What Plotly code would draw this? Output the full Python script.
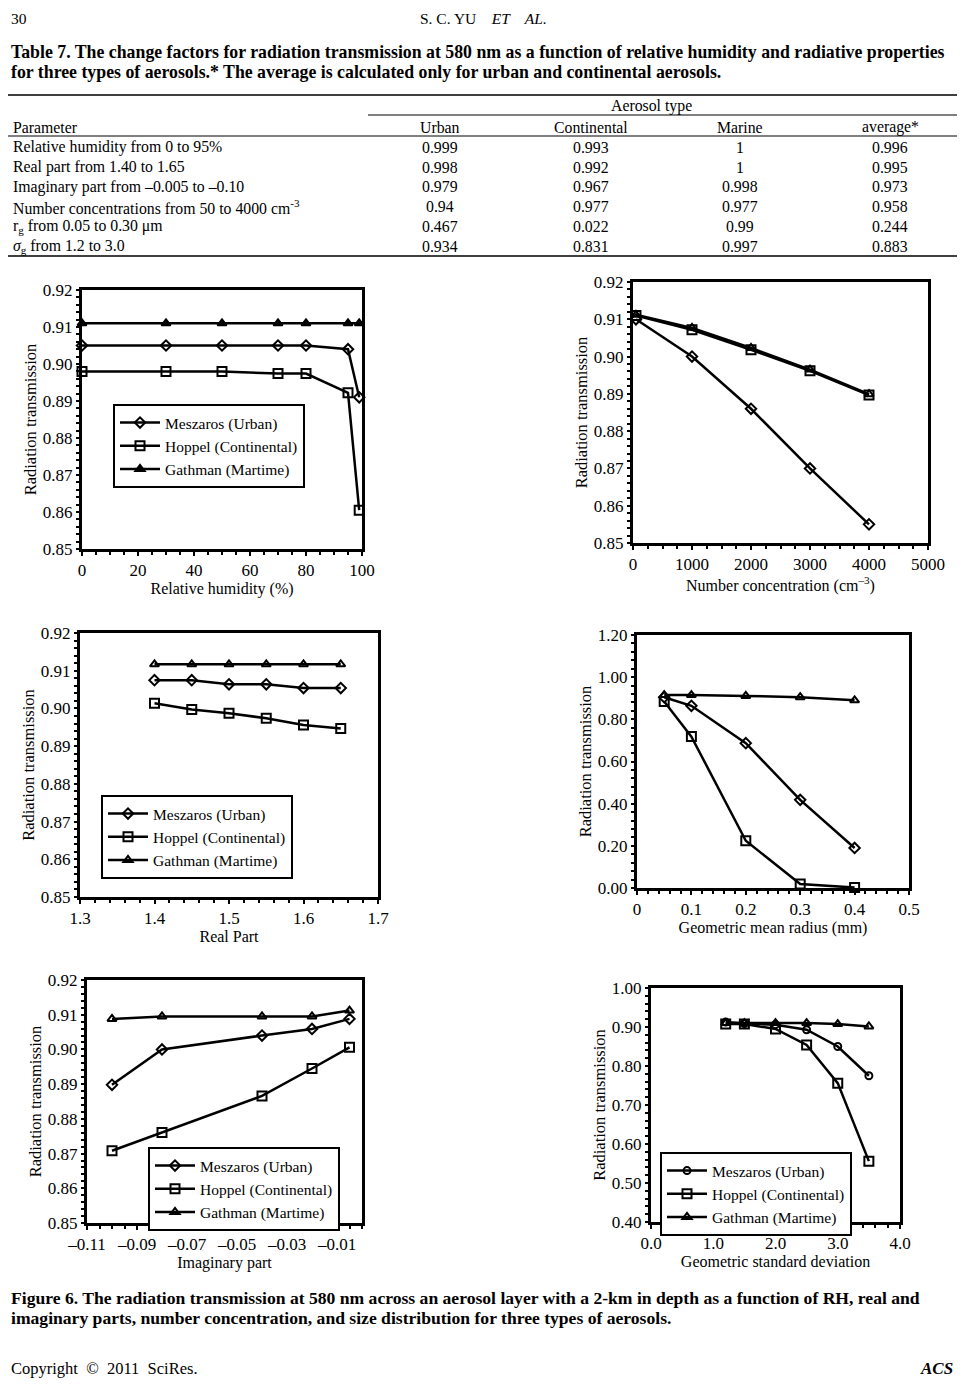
import plotly.graph_objects as go

W, H = 965, 1386          # page size of the reference
OFF = 8                    # the browser page adds an 8 px body margin
FW, FH = W - 2 * OFF, H - 2 * OFF  # figure size so the page fits the window
FONT = "Liberation Serif"

# ---------------- Table 7 data ----------------
table_params = [
    "Relative humidity from 0 to 95%",
    "Real part from 1.40 to 1.65",
    "Imaginary part from –0.005 to –0.10",
    "Number concentrations from 50 to 4000 cm<sup>-3</sup>",
    "r<sub>g</sub> from 0.05 to 0.30 μm",
    "<i>σ</i><sub>g</sub> from 1.2 to 3.0",
]
table_cols = ["Urban", "Continental", "Marine", "average*"]
table_urban = ["0.999", "0.998", "0.979", "0.94", "0.467", "0.934"]
table_continental = ["0.993", "0.992", "0.967", "0.977", "0.022", "0.831"]
table_marine = ["1", "1", "0.998", "0.977", "0.99", "0.997"]
table_average = ["0.996", "0.995", "0.973", "0.958", "0.244", "0.883"]

# ---------------- Figure 6 data ----------------
series_names = ["Meszaros (Urban)", "Hoppel (Continental)", "Gathman (Martime)"]

rh = [0, 30, 50, 70, 80, 95, 99]
rh_urban = [0.905, 0.905, 0.905, 0.905, 0.905, 0.904, 0.891]
rh_cont = [0.898, 0.898, 0.898, 0.8974, 0.8974, 0.8922, 0.8605]
rh_marine = [0.911, 0.911, 0.911, 0.911, 0.911, 0.911, 0.911]

nc = [50, 1000, 2000, 3000, 4000]
nc_urban = [0.910, 0.900, 0.886, 0.870, 0.855]
nc_cont = [0.911, 0.9072, 0.9018, 0.8962, 0.8897]
nc_marine = [0.9112, 0.9077, 0.9023, 0.8965, 0.8899]

real = [1.40, 1.45, 1.50, 1.55, 1.60, 1.65]
real_urban = [0.9075, 0.9075, 0.9064, 0.9064, 0.9054, 0.9054]
real_cont = [0.9014, 0.8997, 0.8987, 0.8974, 0.8956, 0.8947]
real_marine = [0.9117, 0.9117, 0.9117, 0.9117, 0.9117, 0.9117]

rg = [0.05, 0.1, 0.2, 0.3, 0.4]
rg_urban = [0.905, 0.864, 0.687, 0.418, 0.19]
rg_cont = [0.885, 0.718, 0.224, 0.019, 0.002]
rg_marine = [0.915, 0.915, 0.911, 0.905, 0.89]

imag = [-0.10, -0.08, -0.04, -0.02, -0.005]
imag_urban = [0.8898, 0.9000, 0.9040, 0.9059, 0.9088]
imag_cont = [0.8708, 0.8761, 0.8866, 0.8945, 0.9006]
imag_marine = [0.9088, 0.9095, 0.9095, 0.9095, 0.9112]

sg = [1.2, 1.5, 2.0, 2.5, 3.0, 3.5]
sg_urban = [0.9126, 0.909, 0.906, 0.893, 0.850, 0.775]
sg_cont = [0.9075, 0.9075, 0.895, 0.854, 0.756, 0.556]
sg_marine = [0.910, 0.910, 0.910, 0.910, 0.9075, 0.9015]

# tick labels
ticks_rh = [0, 20, 40, 60, 80, 100]
ticks_nc = [0, 1000, 2000, 3000, 4000, 5000]
ticks_real = [1.3, 1.4, 1.5, 1.6, 1.7]
ticks_rg = [0, 0.1, 0.2, 0.3, 0.4, 0.5]
ticks_rg_text = ["0", "0.1", "0.2", "0.3", "0.4", "0.5"]
ticks_imag = [-0.11, -0.09, -0.07, -0.05, -0.03, -0.01]
ticks_imag_text = ["–0.11", "–0.09", "–0.07", "–0.05", "–0.03", "–0.01"]
ticks_sg = [0, 1, 2, 3, 4]
ticks_t = [0.85, 0.86, 0.87, 0.88, 0.89, 0.90, 0.91, 0.92]
ticks_t4 = [0, 0.2, 0.4, 0.6, 0.8, 1.0, 1.2]
ticks_t6 = [0.4, 0.5, 0.6, 0.7, 0.8, 0.9, 1.0]


def px(x):
    return min(1.0, max(0.0, (x - OFF) / FW))


def py(y):
    return max(0.0, min(1.0, 1 - (y - OFF) / FH))


fig = go.Figure()

panels = [
    dict(x=rh, ys=[rh_urban, rh_cont, rh_marine],
         sym=["diamond-open", "square-open", "triangle-up"], legend="legend"),
    dict(x=nc, ys=[nc_urban, nc_cont, nc_marine],
         sym=["diamond-open", "square-open", "triangle-up-open"], legend=None),
    dict(x=real, ys=[real_urban, real_cont, real_marine],
         sym=["diamond-open", "square-open", "triangle-up-open"], legend="legend2"),
    dict(x=rg, ys=[rg_urban, rg_cont, rg_marine],
         sym=["diamond-open", "square-open", "triangle-up-open"], legend=None),
    dict(x=imag, ys=[imag_urban, imag_cont, imag_marine],
         sym=["diamond-open", "square-open", "triangle-up-open"], legend="legend3"),
    dict(x=sg, ys=[sg_urban, sg_cont, sg_marine],
         sym=["circle-open", "square-open", "triangle-up-open"], legend="legend4"),
]
msize = {"diamond-open": 8, "square-open": 9, "triangle-up": 8,
         "triangle-up-open": 8, "circle-open": 7}

for i, p in enumerate(panels):
    ax = "" if i == 0 else str(i + 1)
    for name, y, s in zip(series_names, p["ys"], p["sym"]):
        kw = {}
        if p["legend"]:
            kw["legend"] = p["legend"]
        fig.add_trace(go.Scatter(
            x=p["x"], y=y, name=name, mode="lines+markers",
            xaxis="x" + ax, yaxis="y" + ax,
            line=dict(color="black", width=2.5),
            marker=dict(symbol=s, size=msize[s], color="black",
                        line=dict(color="black", width=2)),
            cliponaxis=False,
            showlegend=bool(p["legend"]),
            **kw))

domains = [
    (82, 362, 290, 549),
    (633, 928, 282, 543),
    (80, 378, 633, 897),
    (637, 909, 635, 888),
    (87, 362, 980, 1223),
    (651, 900, 988, 1222),
]
xcfg = [
    dict(range=[0, 100], tickvals=ticks_rh, title="Relative humidity (%)", minor=5),
    dict(range=[0, 5000], tickvals=ticks_nc, title="Number concentration (cm<sup>–3</sup>)", minor=250),
    dict(range=[1.3, 1.7], tickvals=ticks_real, title="Real Part", minor=0.02),
    dict(range=[0, 0.5], tickvals=ticks_rg, ticktext=ticks_rg_text, title="Geometric mean radius (mm)", minor=0.02),
    dict(range=[-0.11, 0.0], tickvals=ticks_imag, ticktext=ticks_imag_text, title="Imaginary part", minor=0.005),
    dict(range=[0, 4], tickvals=ticks_sg, title="Geometric standard deviation", fmt=".1f", minor=0.2),
]
ycfg = [
    dict(range=[0.85, 0.92], tickvals=ticks_t, fmt=".2f", minor=0.002),
    dict(range=[0.85, 0.92], tickvals=ticks_t, fmt=".2f", minor=0.002),
    dict(range=[0.85, 0.92], tickvals=ticks_t, fmt=".2f", minor=0.002),
    dict(range=[0, 1.2], tickvals=ticks_t4, fmt=".2f", minor=0.04),
    dict(range=[0.85, 0.92], tickvals=ticks_t, fmt=".2f", minor=0.002),
    dict(range=[0.4, 1.0], tickvals=ticks_t6, fmt=".2f", minor=0.02),
]

axfont = dict(family=FONT, size=17, color="black")
for i, (d, xc, yc) in enumerate(zip(domains, xcfg, ycfg)):
    ax = "" if i == 0 else str(i + 1)
    l, r, t, b = d
    xa = dict(domain=[px(l), px(r)], range=xc["range"], tickvals=xc["tickvals"],
              showline=True, linewidth=3, linecolor="black", mirror=True,
              ticks="outside", ticklen=4, tickwidth=2, tickcolor="black",
              minor=dict(ticks="outside", ticklen=3, tickwidth=2, dtick=xc["minor"], tickcolor="black"),
              showgrid=False, zeroline=False, tickfont=axfont, automargin=False,
              title=dict(text=xc["title"], font=dict(family=FONT, size=16, color="black"), standoff=2),
              anchor="y" + ax)
    if "ticktext" in xc:
        xa["ticktext"] = xc["ticktext"]
    if "fmt" in xc:
        xa["tickformat"] = xc["fmt"]
    ya = dict(domain=[py(b), py(t)], range=yc["range"], tickvals=yc["tickvals"],
              tickformat=yc["fmt"],
              showline=True, linewidth=3, linecolor="black", mirror=True,
              ticks="outside", ticklen=3, tickwidth=2, tickcolor="black",
              minor=dict(ticks="outside", ticklen=3, tickwidth=2, dtick=yc["minor"], tickcolor="black"),
              showgrid=False, zeroline=False, tickfont=axfont, automargin=False,
              title=dict(text="Radiation transmission", font=dict(family=FONT, size=16.5, color="black"), standoff=3),
              anchor="x" + ax)
    fig.layout["xaxis" + ax] = xa
    fig.layout["yaxis" + ax] = ya

legfont = dict(family=FONT, size=15.5, color="black")
legend_pos = {"legend": (113, 404), "legend2": (101, 795), "legend3": (148, 1147), "legend4": (660, 1152)}
for key, (lx, ly) in legend_pos.items():
    fig.layout[key] = dict(x=px(lx), y=py(ly), xanchor="left", yanchor="top",
                           bgcolor="white", bordercolor="black", borderwidth=2,
                           font=legfont, tracegroupgap=0, itemwidth=40,
                           traceorder="normal")

# ---------------- page text ----------------
ann = []


def text(x, y, s, size=14, anchor="left", bold=False, italic=False, yanchor="middle"):
    if bold:
        s = "<b>" + s + "</b>"
    if italic:
        s = "<i>" + s + "</i>"
    ann.append(dict(x=px(x), y=py(y), xref="paper", yref="paper", text=s,
                    showarrow=False, xanchor=anchor, yanchor=yanchor,
                    font=dict(family=FONT, size=size, color="black")))


text(9, 8, "30", size=15.5, yanchor="top")
text(483, 8, "S. C. YU    <i>ET    AL.</i>", size=15.5, anchor="center", yanchor="top")
text(9, 52, "Table 7. The change factors for radiation transmission at 580 nm as a function of relative humidity and radiative properties", size=17.8, bold=True)
text(9, 72, "for three types of aerosols.* The average is calculated only for urban and continental aerosols.", size=17.8, bold=True)

col_x = [440, 591, 740, 890]
text(651, 106, "Aerosol type", size=15.8, anchor="center")
text(11, 127, "Parameter", size=15.8)
for cx, c in zip(col_x, table_cols):
    text(cx, 127, c, size=15.8, anchor="center")
row_y = [147, 167, 187, 207, 227, 247]
for ry, prm, a, b, c, d in zip(row_y, table_params, table_urban, table_continental, table_marine, table_average):
    text(11, ry, prm, size=15.8)
    for cx, v in zip(col_x, [a, b, c, d]):
        text(cx, ry, v, size=15.8, anchor="center")

text(9, 1298, "Figure 6. The radiation transmission at 580 nm across an aerosol layer with a 2-km in depth as a function of RH, real and", size=17.6, bold=True)
text(9, 1318, "imaginary parts, number concentration, and size distribution for three types of aerosols.", size=17.6, bold=True)
text(9, 1368, "Copyright  ©  2011  SciRes.", size=16.5)
text(955, 1368, "ACS", size=17, anchor="right", bold=True, italic=True)

shapes = []
for (x0, x1, y, w) in [(0, 965, 95, 1.5), (368, 965, 115, 1), (0, 965, 136, 1), (0, 965, 256, 1.5)]:
    shapes.append(dict(type="line", xref="paper", yref="paper",
                       x0=px(x0), x1=px(x1), y0=py(y), y1=py(y),
                       line=dict(color="black", width=w)))

fig.update_layout(width=FW, height=FH, margin=dict(l=0, r=0, t=0, b=0),
                  paper_bgcolor="white", plot_bgcolor="white",
                  annotations=ann, shapes=shapes,
                  font=dict(family=FONT, color="black"))

fig.write_html("out.html")
